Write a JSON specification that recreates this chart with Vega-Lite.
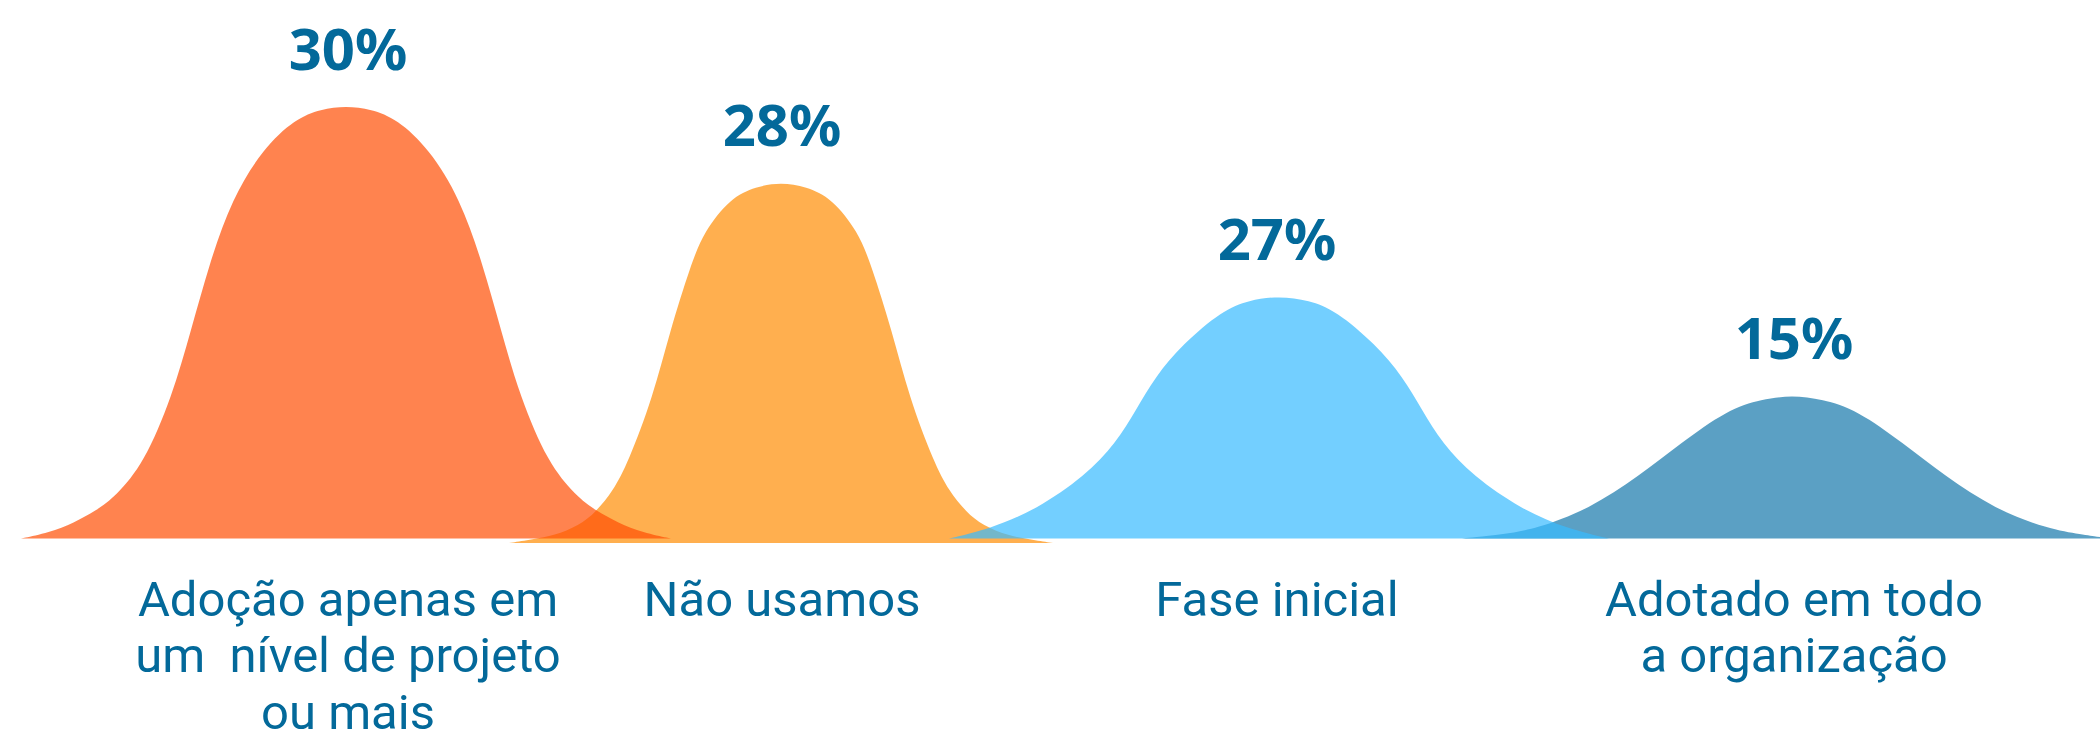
{
  "$schema": "https://vega.github.io/schema/vega-lite/v6.json",
  "width": 2100,
  "height": 738,
  "autosize": {"type": "fit", "contains": "padding"},
  "padding": 0,
  "background": "white",
  "config": {"view": {"stroke": null}},
  "datasets": {
    "curves": [
      {"cat": "Adoção", "x": 21, "h": 0}, {"cat": "Adoção", "x": 49, "h": 6}, {"cat": "Adoção", "x": 74, "h": 16}, {"cat": "Adoção", "x": 96, "h": 28}, {"cat": "Adoção", "x": 116, "h": 43}, {"cat": "Adoção", "x": 144, "h": 76}, {"cat": "Adoção", "x": 172, "h": 143}, {"cat": "Adoção", "x": 191, "h": 210}, {"cat": "Adoção", "x": 209, "h": 276}, {"cat": "Adoção", "x": 232, "h": 343}, {"cat": "Adoção", "x": 263, "h": 393}, {"cat": "Adoção", "x": 295, "h": 423}, {"cat": "Adoção", "x": 321, "h": 433}, {"cat": "Adoção", "x": 346, "h": 436}, {"cat": "Adoção", "x": 371, "h": 433}, {"cat": "Adoção", "x": 397, "h": 423}, {"cat": "Adoção", "x": 429, "h": 393}, {"cat": "Adoção", "x": 460, "h": 343}, {"cat": "Adoção", "x": 483, "h": 276}, {"cat": "Adoção", "x": 501, "h": 210}, {"cat": "Adoção", "x": 520, "h": 143}, {"cat": "Adoção", "x": 548, "h": 76}, {"cat": "Adoção", "x": 576, "h": 43}, {"cat": "Adoção", "x": 596, "h": 28}, {"cat": "Adoção", "x": 618, "h": 16}, {"cat": "Adoção", "x": 643, "h": 6}, {"cat": "Adoção", "x": 671, "h": 0},
      {"cat": "Não usamos", "x": 509, "h": -4.5}, {"cat": "Não usamos", "x": 533, "h": -0.5}, {"cat": "Não usamos", "x": 554, "h": 3}, {"cat": "Não usamos", "x": 579, "h": 13}, {"cat": "Não usamos", "x": 596, "h": 27}, {"cat": "Não usamos", "x": 613, "h": 48}, {"cat": "Não usamos", "x": 628, "h": 76.5}, {"cat": "Não usamos", "x": 653, "h": 143}, {"cat": "Não usamos", "x": 670, "h": 209.5}, {"cat": "Não usamos", "x": 691, "h": 276.5}, {"cat": "Não usamos", "x": 704, "h": 309.5}, {"cat": "Não usamos", "x": 730, "h": 343}, {"cat": "Não usamos", "x": 756, "h": 355}, {"cat": "Não usamos", "x": 781, "h": 359}, {"cat": "Não usamos", "x": 806, "h": 355}, {"cat": "Não usamos", "x": 832, "h": 343}, {"cat": "Não usamos", "x": 858, "h": 309.5}, {"cat": "Não usamos", "x": 871, "h": 276.5}, {"cat": "Não usamos", "x": 892, "h": 209.5}, {"cat": "Não usamos", "x": 909, "h": 143}, {"cat": "Não usamos", "x": 934, "h": 76.5}, {"cat": "Não usamos", "x": 949, "h": 48}, {"cat": "Não usamos", "x": 966, "h": 27}, {"cat": "Não usamos", "x": 983, "h": 13}, {"cat": "Não usamos", "x": 1008, "h": 3}, {"cat": "Não usamos", "x": 1029, "h": -0.5}, {"cat": "Não usamos", "x": 1053, "h": -4.5},
      {"cat": "Fase inicial", "x": 949, "h": 0}, {"cat": "Fase inicial", "x": 990, "h": 9.7}, {"cat": "Fase inicial", "x": 1037, "h": 29.7}, {"cat": "Fase inicial", "x": 1085, "h": 63}, {"cat": "Fase inicial", "x": 1116, "h": 96.3}, {"cat": "Fase inicial", "x": 1136, "h": 129.7}, {"cat": "Fase inicial", "x": 1155, "h": 163}, {"cat": "Fase inicial", "x": 1183, "h": 196.3}, {"cat": "Fase inicial", "x": 1222, "h": 229.7}, {"cat": "Fase inicial", "x": 1249, "h": 240.5}, {"cat": "Fase inicial", "x": 1279, "h": 244.5}, {"cat": "Fase inicial", "x": 1309, "h": 240.5}, {"cat": "Fase inicial", "x": 1336, "h": 229.7}, {"cat": "Fase inicial", "x": 1375, "h": 196.3}, {"cat": "Fase inicial", "x": 1403, "h": 163}, {"cat": "Fase inicial", "x": 1422, "h": 129.7}, {"cat": "Fase inicial", "x": 1442, "h": 96.3}, {"cat": "Fase inicial", "x": 1473, "h": 63}, {"cat": "Fase inicial", "x": 1521, "h": 29.7}, {"cat": "Fase inicial", "x": 1568, "h": 9.7}, {"cat": "Fase inicial", "x": 1609, "h": 0},
      {"cat": "Adotado", "x": 1462, "h": 0}, {"cat": "Adotado", "x": 1474, "h": 1.3}, {"cat": "Adotado", "x": 1502, "h": 4}, {"cat": "Adotado", "x": 1536, "h": 9.7}, {"cat": "Adotado", "x": 1589, "h": 29.7}, {"cat": "Adotado", "x": 1639, "h": 63}, {"cat": "Adotado", "x": 1681, "h": 96.3}, {"cat": "Adotado", "x": 1727, "h": 129.7}, {"cat": "Adotado", "x": 1762, "h": 140.5}, {"cat": "Adotado", "x": 1792, "h": 144.5}, {"cat": "Adotado", "x": 1822, "h": 140.5}, {"cat": "Adotado", "x": 1857, "h": 129.7}, {"cat": "Adotado", "x": 1903, "h": 96.3}, {"cat": "Adotado", "x": 1945, "h": 63}, {"cat": "Adotado", "x": 1995, "h": 29.7}, {"cat": "Adotado", "x": 2048, "h": 9.7}, {"cat": "Adotado", "x": 2082, "h": 4}, {"cat": "Adotado", "x": 2100, "h": 1.5}
    ],
    "labels": [
      {"cat": "Adoção", "x": 348, "peak": 435, "pct": "30%", "label": "Adoção apenas em\num \u00a0nível de projeto\nou mais"},
      {"cat": "Não usamos", "x": 782, "peak": 358, "pct": "28%", "label": "Não usamos"},
      {"cat": "Fase inicial", "x": 1277, "peak": 244, "pct": "27%", "label": "Fase inicial"},
      {"cat": "Adotado", "x": 1794, "peak": 144, "pct": "15%", "label": "Adotado em todo\na organização"}
    ]
  },
  "encoding": {
    "x": {"field": "x", "type": "quantitative", "scale": {"domain": [0, 2100], "nice": false, "zero": false}, "axis": null}
  },
  "layer": [
    {
      "data": {"name": "curves"},
      "transform": [{"filter": "datum.cat == 'Não usamos'"}],
      "mark": {"type": "area", "interpolate": "basis", "opacity": 0.7, "clip": true},
      "encoding": {
        "y": {"field": "h", "type": "quantitative", "scale": {"domain": [-195, 543], "nice": false, "zero": false}, "axis": null},
        "y2": {"datum": -4.5},
        "color": {"field": "cat", "type": "nominal", "scale": {"domain": ["Adoção", "Não usamos", "Fase inicial", "Adotado"], "range": ["#FF4E04", "#FF8D04", "#38BAFF", "#1577AB"]}, "legend": null}
      }
    },
    {
      "data": {"name": "curves"},
      "transform": [{"filter": "datum.cat == 'Adotado'"}],
      "mark": {"type": "area", "interpolate": "basis", "opacity": 0.7, "clip": true},
      "encoding": {
        "y": {"field": "h", "type": "quantitative", "axis": null},
        "y2": {"datum": 0},
        "color": {"field": "cat", "type": "nominal", "legend": null}
      }
    },
    {
      "data": {"name": "curves"},
      "transform": [{"filter": "datum.cat == 'Adoção'"}],
      "mark": {"type": "area", "interpolate": "basis", "opacity": 0.7, "clip": true},
      "encoding": {
        "y": {"field": "h", "type": "quantitative", "axis": null},
        "y2": {"datum": 0},
        "color": {"field": "cat", "type": "nominal", "legend": null}
      }
    },
    {
      "data": {"name": "curves"},
      "transform": [{"filter": "datum.cat == 'Fase inicial'"}],
      "mark": {"type": "area", "interpolate": "basis", "opacity": 0.7, "clip": true},
      "encoding": {
        "y": {"field": "h", "type": "quantitative", "axis": null},
        "y2": {"datum": 0},
        "color": {"field": "cat", "type": "nominal", "legend": null}
      }
    },
    {
      "data": {"name": "labels"},
      "mark": {"type": "text", "align": "center", "baseline": "alphabetic", "dy": -37, "font": "Noto Sans", "fontWeight": "bold", "fontSize": 58, "color": "#03699A"},
      "encoding": {
        "y": {"field": "peak", "type": "quantitative", "axis": null},
        "text": {"field": "pct", "type": "nominal"}
      }
    },
    {
      "data": {"name": "labels"},
      "mark": {"type": "text", "align": "center", "baseline": "alphabetic", "lineBreak": "\n", "lineHeight": 56.5, "font": "Roboto", "fontSize": 49, "color": "#03699A"},
      "encoding": {
        "y": {"datum": -78},
        "text": {"field": "label", "type": "nominal"}
      }
    }
  ]
}
